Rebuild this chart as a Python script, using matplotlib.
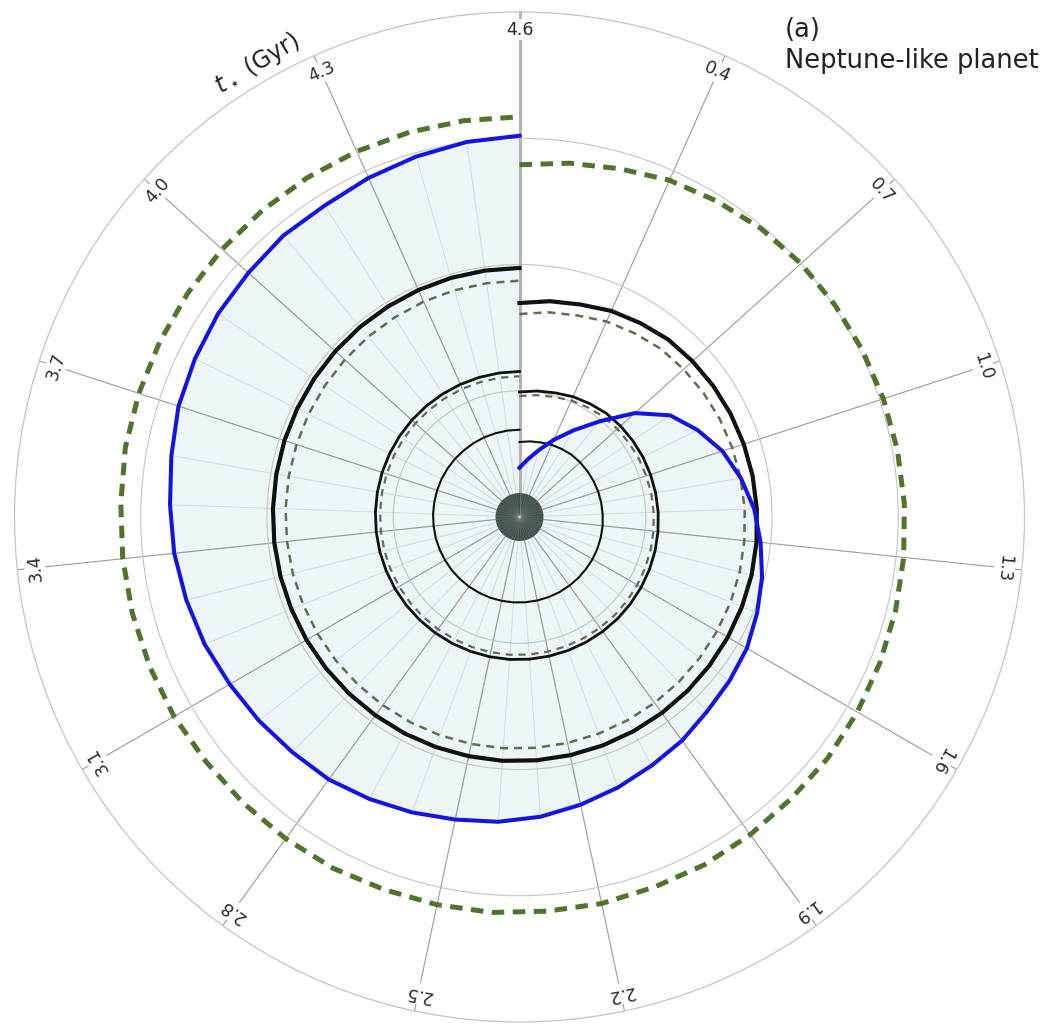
import numpy as np
import matplotlib
matplotlib.use("Agg")
import matplotlib.pyplot as plt

# stellar age samples, 0.1 Gyr apart
t_gyr = np.round(np.arange(0.1, 4.65, 0.1), 1)

# planet track (blue) and zone boundaries, all in the same radial units
planet = [0.39, 0.46, 0.55, 0.67, 0.81, 0.99, 1.23, 1.44, 1.57, 1.69,
          1.78, 1.86, 1.92, 1.98, 2.03, 2.08, 2.11, 2.14, 2.19, 2.23,
          2.28, 2.33, 2.38, 2.42, 2.45, 2.49, 2.53, 2.57, 2.59, 2.62,
          2.65, 2.69, 2.72, 2.75, 2.77, 2.80, 2.84, 2.86, 2.88, 2.89,
          2.91, 2.91, 2.94, 2.97, 3.00, 3.02]

inner_edge = [0.594, 0.605, 0.614, 0.626, 0.634, 0.643, 0.646, 0.649, 0.652, 0.655,
              0.657, 0.659, 0.662, 0.664, 0.666, 0.668, 0.669, 0.671, 0.672, 0.674,
              0.675, 0.676, 0.677, 0.678, 0.679, 0.680, 0.680, 0.681, 0.681, 0.682,
              0.682, 0.683, 0.684, 0.684, 0.685, 0.685, 0.686, 0.687, 0.687, 0.688,
              0.688, 0.689, 0.690, 0.690, 0.691, 0.691]

mid_edge = [0.990, 1.008, 1.023, 1.043, 1.057, 1.071, 1.077, 1.082, 1.087, 1.091,
            1.095, 1.099, 1.103, 1.107, 1.110, 1.113, 1.116, 1.119, 1.121, 1.123,
            1.125, 1.127, 1.129, 1.131, 1.132, 1.133, 1.134, 1.135, 1.136, 1.137,
            1.138, 1.139, 1.140, 1.141, 1.142, 1.143, 1.144, 1.145, 1.146, 1.147,
            1.148, 1.149, 1.150, 1.151, 1.152, 1.153]

mid_dash = [0.958, 0.975, 0.990, 1.010, 1.023, 1.037, 1.042, 1.047, 1.052, 1.056,
            1.060, 1.063, 1.067, 1.071, 1.074, 1.077, 1.080, 1.083, 1.084, 1.086,
            1.088, 1.090, 1.092, 1.094, 1.095, 1.096, 1.097, 1.098, 1.099, 1.100,
            1.101, 1.102, 1.103, 1.104, 1.105, 1.106, 1.106, 1.107, 1.108, 1.109,
            1.110, 1.111, 1.112, 1.113, 1.114, 1.115]

outer_edge = [1.695, 1.726, 1.751, 1.787, 1.810, 1.834, 1.844, 1.853, 1.861, 1.868,
              1.875, 1.881, 1.888, 1.895, 1.900, 1.905, 1.910, 1.915, 1.919, 1.922,
              1.926, 1.929, 1.932, 1.936, 1.937, 1.939, 1.941, 1.942, 1.944, 1.946,
              1.948, 1.949, 1.951, 1.953, 1.954, 1.956, 1.958, 1.959, 1.961, 1.963,
              1.965, 1.966, 1.968, 1.970, 1.971, 1.973]

outer_dash = [1.608, 1.637, 1.661, 1.695, 1.717, 1.740, 1.749, 1.758, 1.766, 1.772,
              1.778, 1.785, 1.791, 1.798, 1.803, 1.807, 1.812, 1.817, 1.820, 1.823,
              1.827, 1.830, 1.833, 1.836, 1.838, 1.840, 1.841, 1.843, 1.844, 1.846,
              1.848, 1.849, 1.851, 1.852, 1.854, 1.856, 1.857, 1.859, 1.860, 1.862,
              1.864, 1.865, 1.867, 1.868, 1.870, 1.872]

far_dash = [2.79, 2.83, 2.87, 2.92, 2.95, 2.98, 3.00, 3.01, 3.02, 3.03,
            3.04, 3.05, 3.06, 3.07, 3.08, 3.09, 3.10, 3.10, 3.11, 3.12,
            3.12, 3.13, 3.13, 3.14, 3.14, 3.14, 3.15, 3.15, 3.15, 3.15,
            3.16, 3.16, 3.16, 3.16, 3.16, 3.17, 3.17, 3.17, 3.17, 3.17,
            3.17, 3.17, 3.17, 3.17, 3.17, 3.17]

tick_t = [0.4, 0.7, 1.0, 1.3, 1.6, 1.9, 2.2, 2.5, 2.8, 3.1, 3.4, 3.7, 4.0, 4.3, 4.6]
tick_labels = ["0.4", "0.7", "1.0", "1.3", "1.6", "1.9", "2.2", "2.5",
               "2.8", "3.1", "3.4", "3.7", "4.0", "4.3", "4.6"]

star_radius = 0.19
r_max = 4.0


def age_to_theta(t):
    return np.deg2rad((np.asarray(t) - 0.1) / 4.5 * 360.0)


theta = age_to_theta(t_gyr)

fig = plt.figure(figsize=(10.47, 10.27), dpi=100)
ax = fig.add_axes([14.5 / 1047, 5 / 1027, 1010 / 1047, 1010 / 1027], projection="polar")
ax.set_theta_zero_location("N")
ax.set_theta_direction(-1)
ax.set_ylim(0, r_max)

# grid
ax.set_xticks(age_to_theta(tick_t) % (2 * np.pi))
ax.set_xticklabels([])
ax.set_yticks([1, 2, 3])
ax.set_yticklabels([])
ax.xaxis.grid(True, color="#9a9a9a", lw=0.8)
ax.yaxis.grid(True, color="#c4c4c4", lw=0.8)
ax.tick_params(length=0)
ax.spines["polar"].set_color("#c4c4c4")
ax.spines["polar"].set_linewidth(0.9)

# shaded area under the planet track, with a spoke at every age sample
ax.fill_between(theta, 0, planet, color="#edf5f7", lw=0, zorder=0.8)
ax.vlines(theta, 0, planet, colors="#c9d6da", lw=0.7, alpha=0.8, zorder=1.2)

# start/end of the age axis
ax.plot([0, 0], [0, r_max], color="#b4b4b4", lw=2.2, zorder=1.7)

# the star
ax.bar(0, star_radius, width=2 * np.pi, bottom=0, align="edge",
       color="#435050", lw=0, zorder=2.5)
ax.vlines(theta, 0, star_radius, colors="white", lw=0.6, alpha=0.12, zorder=2.6)

# zone boundaries
ax.plot(theta, inner_edge, color="#111111", lw=1.5, zorder=3)
ax.plot(theta, mid_edge, color="#111111", lw=2.0, zorder=3)
ax.plot(theta, outer_edge, color="#111111", lw=3.0, zorder=3)
ax.plot(theta, mid_dash, color="#5f6e52", lw=1.6, ls=(0, (3.2, 2.6)), zorder=2.8)
ax.plot(theta, outer_dash, color="#5f6e52", lw=1.8, ls=(0, (3.2, 2.4)), zorder=2.8)
ax.plot(theta, far_dash, color="#4f742c", lw=3.6, ls=(0, (2.5, 1.7)), zorder=2.8)

# planet
ax.plot(theta, planet, color="#1414e0", lw=2.9, zorder=4)

# age labels along the rim
for tv, lab in zip(tick_t, tick_labels):
    th = age_to_theta(tv)
    ax.text(th, 3.86, lab, rotation=-np.rad2deg(th), rotation_mode="anchor",
            ha="center", va="center", fontsize=12.5, color="#2a2a2a",
            bbox=dict(facecolor="white", edgecolor="none", pad=1.0), zorder=5)

ax.text(np.deg2rad(330), 4.15, r"$t_\star$ (Gyr)", rotation=31,
        rotation_mode="anchor", ha="center", va="center", fontsize=17,
        color="#222222", clip_on=False)

fig.text(785 / 1047, 1 - 17 / 1027, "(a)\nNeptune-like planet",
         ha="left", va="top", fontsize=18.5, color="#222222", linespacing=1.25)

fig.savefig("out.png", dpi=100)
